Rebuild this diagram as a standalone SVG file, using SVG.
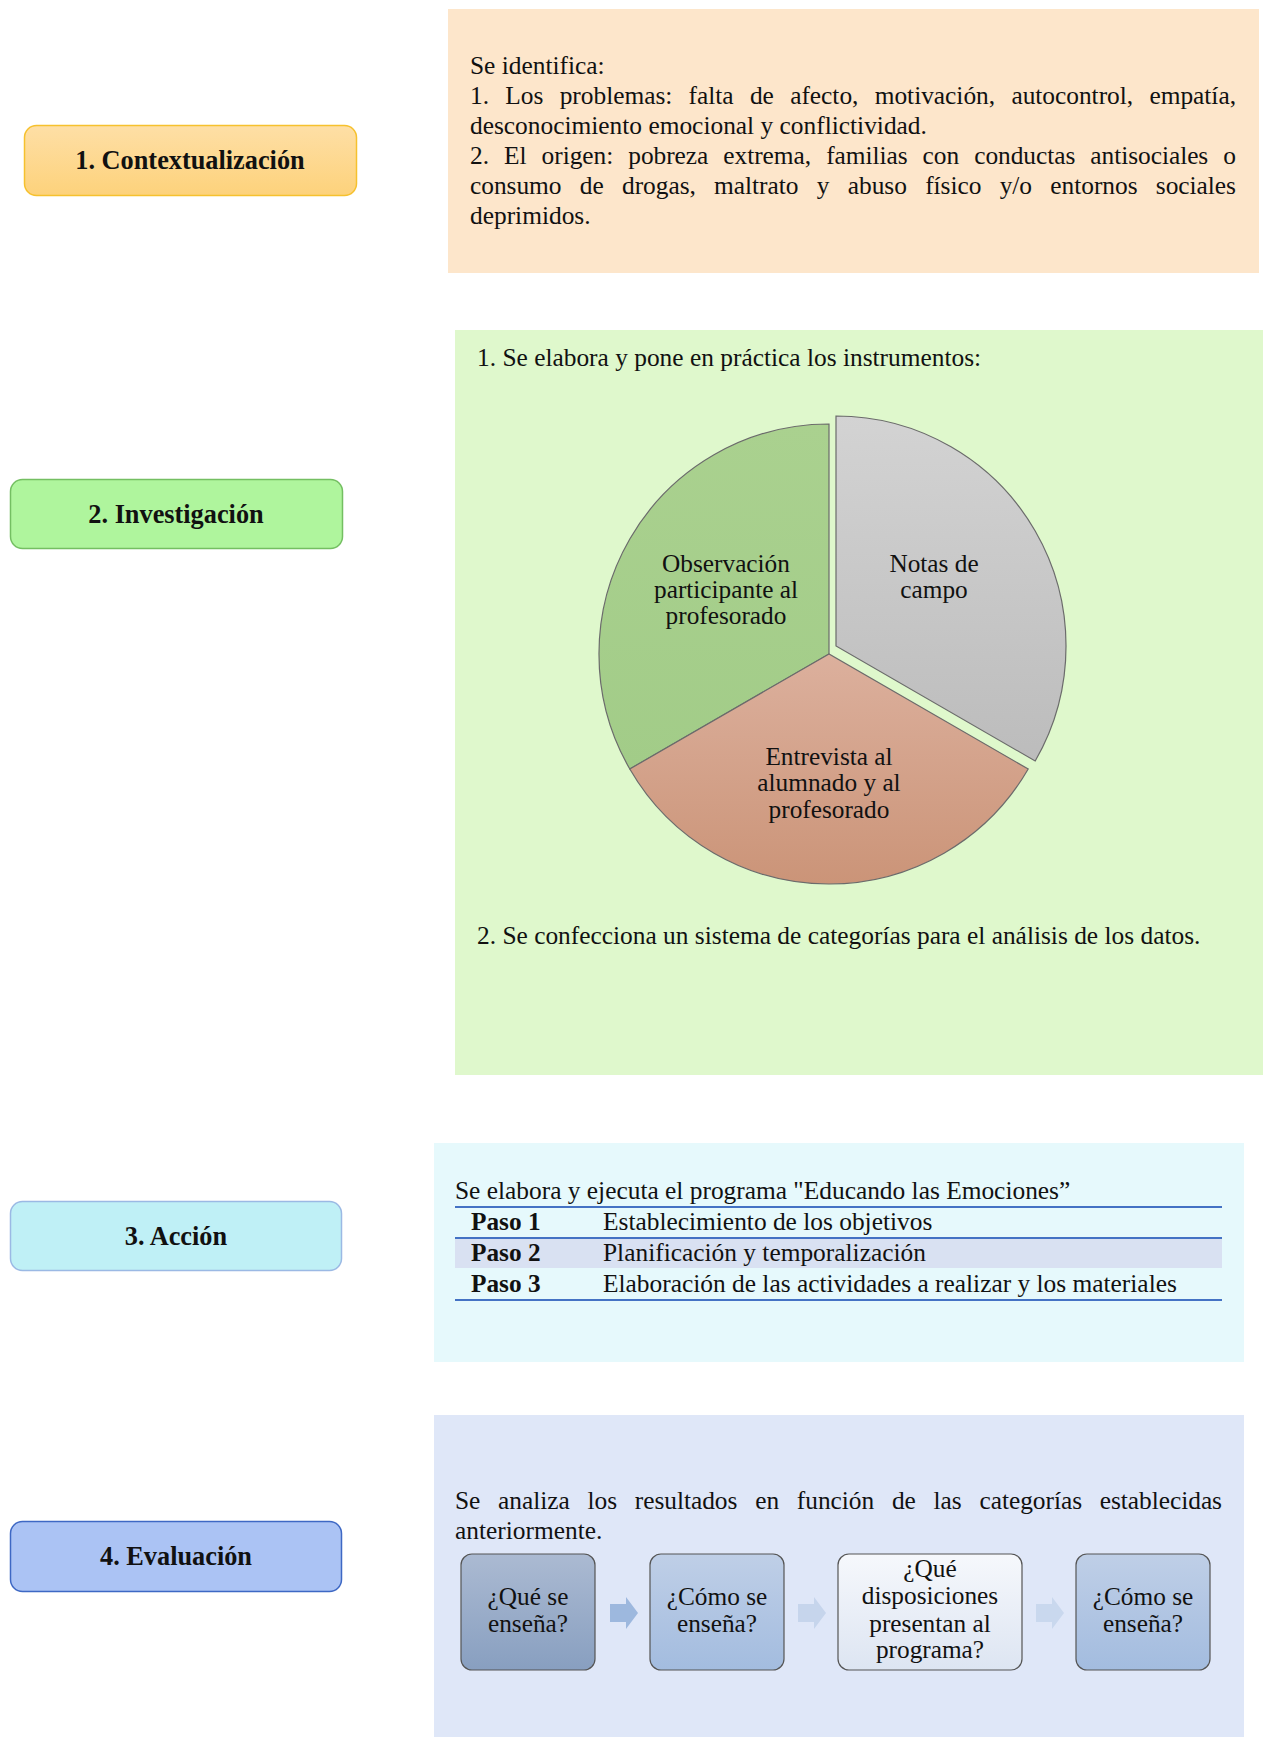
<svg xmlns="http://www.w3.org/2000/svg" width="1263" height="1737" viewBox="0 0 1263 1737">
<defs>
<style>
text{font-family:"Liberation Serif","Times New Roman",serif;fill:#111;}
.lbl{font-size:26.3px;font-weight:bold;text-anchor:middle;}
.t{font-size:25.4px;}
.c{font-size:25.3px;text-anchor:middle;}
.b{font-size:25.3px;font-weight:bold;}
.slice{stroke:#6b6b6b;stroke-width:1.2;}
.fbox{stroke:#555;stroke-width:1.2;}
.arr{stroke:none;}
</style>
<linearGradient id="g1" x1="0" y1="0" x2="0" y2="1"><stop offset="0" stop-color="#fedfa6"/><stop offset="1" stop-color="#fdd27b"/></linearGradient>
<linearGradient id="gGreen" x1="0" y1="0" x2="0" y2="1"><stop offset="0" stop-color="#aad18f"/><stop offset="1" stop-color="#a2cc88"/></linearGradient>
<linearGradient id="gGray" x1="0" y1="0" x2="0" y2="1"><stop offset="0" stop-color="#d3d3d3"/><stop offset="1" stop-color="#bcbcbc"/></linearGradient>
<linearGradient id="gBrown" x1="0" y1="0" x2="0" y2="1"><stop offset="0" stop-color="#dcb09d"/><stop offset="1" stop-color="#cb9478"/></linearGradient>
<linearGradient id="gb1" x1="0" y1="0" x2="0" y2="1"><stop offset="0" stop-color="#abbad2"/><stop offset="1" stop-color="#889fc0"/></linearGradient>
<linearGradient id="gb2" x1="0" y1="0" x2="0" y2="1"><stop offset="0" stop-color="#bfcfe7"/><stop offset="1" stop-color="#a3bcdf"/></linearGradient>
<linearGradient id="gb3" x1="0" y1="0" x2="0" y2="1"><stop offset="0" stop-color="#f6f8fc"/><stop offset="1" stop-color="#dde5f2"/></linearGradient>
</defs>
<rect width="1263" height="1737" fill="#ffffff"/>

<!-- Panel 1 -->
<g id="panel1">
<rect x="448" y="9" width="811" height="264" fill="#fde6cb"/>
<text class="t" x="470" y="74">Se identifica:</text>
<text class="t" x="470" y="104" word-spacing="10" textLength="766" lengthAdjust="spacing">1. Los problemas: falta de afecto, motivación, autocontrol, empatía,</text>
<text class="t" x="470" y="134">desconocimiento emocional y conflictividad.</text>
<text class="t" x="470" y="164" word-spacing="8.8" textLength="766" lengthAdjust="spacing">2. El origen: pobreza extrema, familias con conductas antisociales o</text>
<text class="t" x="470" y="194" word-spacing="12" textLength="766" lengthAdjust="spacing">consumo de drogas, maltrato y abuso físico y/o entornos sociales</text>
<text class="t" x="470" y="224">deprimidos.</text>
</g>

<!-- Panel 2 -->
<g id="panel2">
<rect x="455" y="330" width="808" height="745" fill="#dff8cc"/>
<text class="t" x="477" y="366">1. Se elabora y pone en práctica los instrumentos:</text>
<g id="pie">
<path class="slice" fill="url(#gGreen)" d="M829,654 L829,424 A230,230 0 0 0 629.8,769 Z"/>
<path class="slice" fill="url(#gBrown)" d="M829,654 L629.8,769 A230,230 0 0 0 1028.2,769 Z"/>
<path class="slice" fill="url(#gGray)" d="M836,646 L836,416 A230,230 0 0 1 1035.2,761 Z"/>
<text class="c" x="726" y="572">Observación</text>
<text class="c" x="726" y="598">participante al</text>
<text class="c" x="726" y="624">profesorado</text>
<text class="c" x="934" y="572">Notas de</text>
<text class="c" x="934" y="598">campo</text>
<text class="c" x="829" y="765">Entrevista al</text>
<text class="c" x="829" y="791">alumnado y al</text>
<text class="c" x="829" y="818">profesorado</text>
</g>
<text class="t" x="477" y="944">2. Se confecciona un sistema de categorías para el análisis de los datos.</text>
</g>

<!-- Panel 3 -->
<g id="panel3">
<rect x="434" y="1143" width="810" height="219" fill="#e6f9fc"/>
<text class="t" x="455" y="1199">Se elabora y ejecuta el programa "Educando las Emociones”</text>
<rect x="455" y="1238" width="767" height="30" fill="#d9e1f2"/>
<line x1="455" y1="1207" x2="1222" y2="1207" stroke="#4472c4" stroke-width="2"/>
<line x1="455" y1="1238" x2="1222" y2="1238" stroke="#4472c4" stroke-width="2"/>
<line x1="455" y1="1300" x2="1222" y2="1300" stroke="#4472c4" stroke-width="2"/>
<text class="b" x="471" y="1230">Paso 1</text>
<text class="t" x="603" y="1230">Establecimiento de los objetivos</text>
<text class="b" x="471" y="1261">Paso 2</text>
<text class="t" x="603" y="1261">Planificación y temporalización</text>
<text class="b" x="471" y="1292">Paso 3</text>
<text class="t" x="603" y="1292">Elaboración de las actividades a realizar y los materiales</text>
</g>

<!-- Panel 4 -->
<g id="panel4">
<rect x="434" y="1415" width="810" height="322" fill="#dfe7f8"/>
<text class="t" x="455" y="1509" word-spacing="11.5" textLength="767" lengthAdjust="spacing">Se analiza los resultados en función de las categorías establecidas</text>
<text class="t" x="455" y="1539">anteriormente.</text>
<g id="q1"><rect class="fbox" x="461" y="1554" width="134" height="116" rx="11" fill="url(#gb1)"/>
<text class="c" x="528" y="1605">¿Qué se</text><text class="c" x="528" y="1632">enseña?</text></g>
<g id="q2"><rect class="fbox" x="650" y="1554" width="134" height="116" rx="11" fill="url(#gb2)"/>
<text class="c" x="717" y="1605">¿Cómo se</text><text class="c" x="717" y="1632">enseña?</text></g>
<g id="q3"><rect class="fbox" x="838" y="1554" width="184" height="116" rx="11" fill="url(#gb3)"/>
<text class="c" x="930" y="1577">¿Qué</text><text class="c" x="930" y="1604">disposiciones</text><text class="c" x="930" y="1632">presentan al</text><text class="c" x="930" y="1658">programa?</text></g>
<g id="q4"><rect class="fbox" x="1076" y="1554" width="134" height="116" rx="11" fill="url(#gb2)"/>
<text class="c" x="1143" y="1605">¿Cómo se</text><text class="c" x="1143" y="1632">enseña?</text></g>
</g>

<g id="connectors">
<path class="arr" fill="#9db8de" d="M610,1604 H626 V1597 L638,1613 L626,1629 V1622 H610 Z"/>
<path class="arr" fill="#c6d5ec" d="M798,1604 H814 V1597 L826,1613 L814,1629 V1622 H798 Z"/>
<path class="arr" fill="#c9d8ee" d="M1036,1604 H1052 V1597 L1064,1613 L1052,1629 V1622 H1036 Z"/>
</g>

<!-- Step nodes -->
<g id="node1"><rect x="24.5" y="125.5" width="332" height="70" rx="12" fill="url(#g1)" stroke="#f6c12e" stroke-width="1.5"/>
<text class="lbl" x="190" y="169">1. Contextualización</text></g>
<g id="node2"><rect x="10.5" y="479.5" width="332" height="69" rx="12" fill="#aff59d" stroke="#74bf62" stroke-width="1.5"/>
<text class="lbl" x="176" y="523">2. Investigación</text></g>
<g id="node3"><rect x="10.5" y="1201.5" width="331" height="69" rx="12" fill="#bff0f6" stroke="#9bb9e4" stroke-width="1.5"/>
<text class="lbl" x="176" y="1245">3. Acción</text></g>
<g id="node4"><rect x="10.5" y="1521.5" width="331" height="70" rx="12" fill="#abc3f4" stroke="#3e68c4" stroke-width="1.5"/>
<text class="lbl" x="176" y="1565">4. Evaluación</text></g>
</svg>
